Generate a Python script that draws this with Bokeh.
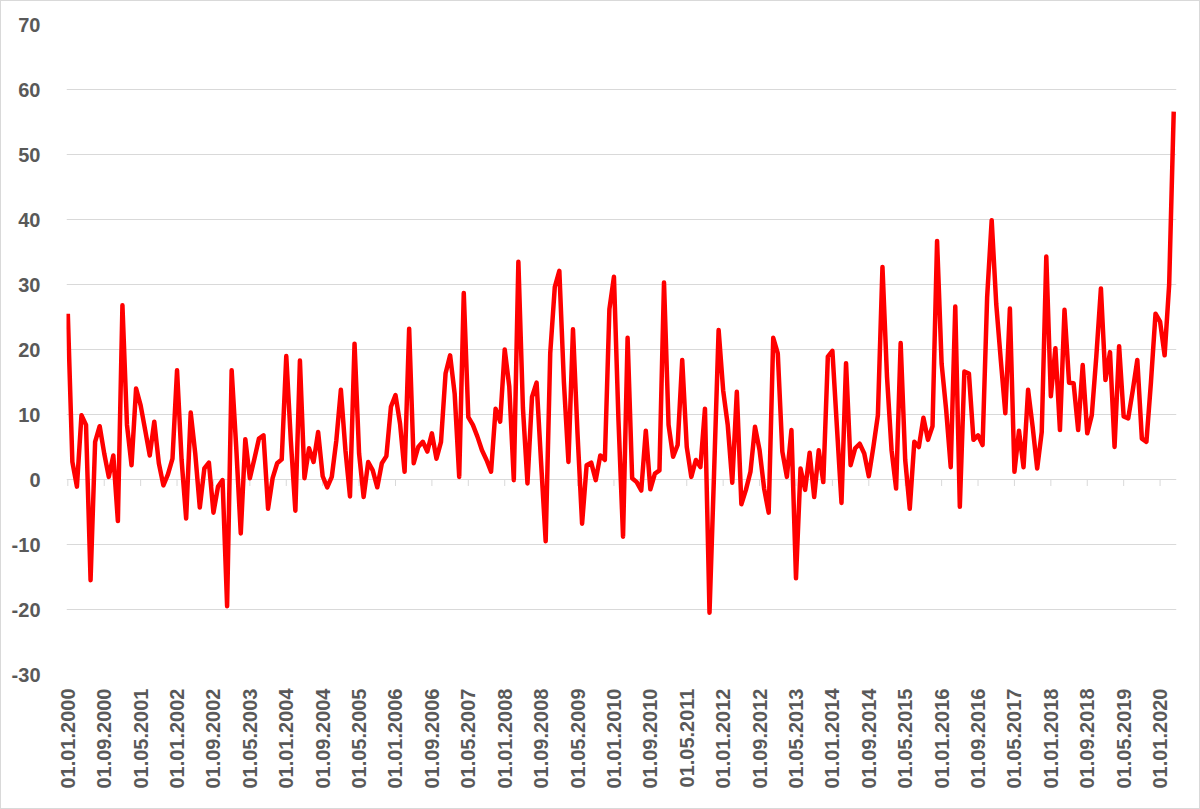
import math
from bokeh.plotting import figure
from bokeh.models import Range1d, FixedTicker, ColumnDataSource
from bokeh.embed import file_html
from bokeh.resources import INLINE

# Monthly values, 01.01.2000 .. 01.04.2020
values = [
    25.5, 2.7, -1.1, 9.9, 8.4, -15.5, 5.8, 8.2, 4.0, 0.4, 3.7, -6.4,
    26.8, 8.4, 2.2, 14.0, 11.4, 7.6, 3.7, 8.9, 2.5, -0.9, 0.8, 3.2,
    16.8, 3.0, -6.0, 10.3, 4.0, -4.3, 1.7, 2.6, -5.1, -1.1, -0.1, -19.5,
    16.8, 5.0, -8.3, 6.2, 0.2, 3.2, 6.3, 6.8, -4.5, 0.2, 2.5, 3.1,
    19.0, 6.0, -4.8, 18.3, 0.2, 4.8, 2.7, 7.3, 0.5, -1.2, 0.4, 6.0,
    13.8, 4.5, -2.6, 20.9, 4.0, -2.7, 2.7, 1.4, -1.2, 2.5, 3.6, 11.2,
    13.0, 8.6, 1.2, 23.2, 2.5, 5.0, 5.8, 4.3, 7.1, 3.2, 5.8, 16.3,
    19.1, 13.2, 0.4, 28.7, 9.6, 8.4, 6.6, 4.5, 3.0, 1.2, 10.9, 8.9,
    20.0, 14.3, -0.1, 33.5, 11.0, -0.6, 12.7, 14.9, 2.5, -9.5, 19.4, 29.6,
    32.1, 15.0, 2.7, 23.1, 7.0, -6.8, 2.2, 2.6, -0.1, 3.7, 3.0, 26.2,
    31.2, 9.0, -8.8, 21.8, 0.2, -0.4, -1.7, 7.5, -1.5, 0.9, 1.4, 30.3,
    8.4, 3.5, 5.3, 18.4, 5.0, 0.4, 3.0, 1.9, 10.9, -20.5, 1.0, 23.0,
    13.7, 8.4, -0.5, 13.5, -3.8, -1.6, 1.2, 8.1, 4.5, -1.4, -5.1, 21.8,
    19.4, 4.3, 0.4, 7.6, -15.2, 1.7, -1.6, 4.1, -2.7, 4.5, -0.4, 18.9,
    19.8, 8.0, -3.6, 17.9, 2.2, 4.8, 5.5, 4.0, 0.5, 5.0, 9.9, 32.7,
    15.8, 4.5, -1.4, 21.0, 3.0, -4.5, 5.8, 5.0, 9.5, 6.1, 8.2, 36.7,
    17.8, 10.7, 1.9, 26.6, -4.2, 16.6, 16.3, 6.1, 6.8, 5.3, 28.0, 39.9,
    27.0, 18.4, 10.2, 26.3, 1.2, 7.5, 1.9, 13.8, 8.1, 1.7, 7.3, 34.3,
    12.8, 20.2, 7.6, 26.1, 14.9, 14.8, 7.6, 17.6, 7.1, 9.9, 19.0, 29.4,
    15.3, 19.6, 5.0, 20.5, 9.7, 9.4, 13.7, 18.4, 6.3, 5.8, 15.0, 25.5,
    24.3, 19.1, 30.0, 56.6,
]
months = list(range(len(values)))

x_tick_positions = list(range(0, 241, 8))
x_tick_labels = [
    "01.01.2000", "01.09.2000", "01.05.2001", "01.01.2002", "01.09.2002",
    "01.05.2003", "01.01.2004", "01.09.2004", "01.05.2005", "01.01.2006",
    "01.09.2006", "01.05.2007", "01.01.2008", "01.09.2008", "01.05.2009",
    "01.01.2010", "01.09.2010", "01.05.2011", "01.01.2012", "01.09.2012",
    "01.05.2013", "01.01.2014", "01.09.2014", "01.05.2015", "01.01.2016",
    "01.09.2016", "01.05.2017", "01.01.2018", "01.09.2018", "01.05.2019",
    "01.01.2020",
]
y_ticks = [-30, -20, -10, 0, 10, 20, 30, 40, 50, 60, 70]
y_tick_labels = ["-30", "-20", "-10", "0", "10", "20", "30", "40", "50", "60", "70"]

GRID = "#d9d9d9"
TEXT = "#595959"

p = figure(
    frame_width=1110, frame_height=650,
    min_border_left=65, min_border_top=23, min_border_right=23, min_border_bottom=134,
    x_range=Range1d(-0.29, 243.61), y_range=Range1d(-30, 70),
    output_backend="svg", toolbar_location=None,
    background_fill_color="white", border_fill_color="white",
)
p.outline_line_color = None
p.styles = {"border": "1px solid #d9d9d9"}

# y axis
p.yaxis.ticker = FixedTicker(ticks=y_ticks)
p.yaxis.major_label_overrides = {t: l for t, l in zip(y_ticks, y_tick_labels)}
p.yaxis.axis_line_color = None
p.yaxis.major_tick_line_color = None
p.yaxis.minor_tick_line_color = None
p.yaxis.major_label_text_font = "Liberation Sans"
p.yaxis.major_label_text_font_style = "bold"
p.yaxis.major_label_text_font_size = "20px"
p.yaxis.major_label_text_color = TEXT
p.yaxis.major_label_standoff = 20

p.ygrid.ticker = FixedTicker(ticks=y_ticks)
p.ygrid.grid_line_color = GRID
p.ygrid.grid_line_width = 1
p.xgrid.grid_line_color = None

# x axis (labels only, at bottom)
p.xaxis.ticker = FixedTicker(ticks=x_tick_positions)
p.xaxis.major_label_overrides = {t: l for t, l in zip(x_tick_positions, x_tick_labels)}
p.xaxis.major_label_orientation = math.pi / 2
p.xaxis.axis_line_color = None
p.xaxis.major_tick_line_color = None
p.xaxis.minor_tick_line_color = None
p.xaxis.major_label_text_font = "Liberation Sans"
p.xaxis.major_label_text_font_style = "bold"
p.xaxis.major_label_text_font_size = "20px"
p.xaxis.major_label_text_color = TEXT
p.xaxis.major_label_standoff = 8

# tick marks hanging below the zero line
p.segment(x0=x_tick_positions, y0=[0] * len(x_tick_positions),
          x1=x_tick_positions, y1=[-1.0] * len(x_tick_positions),
          line_color=GRID, line_width=1)

src = ColumnDataSource(dict(x=months, y=values))
p.line("x", "y", source=src, line_color="#ff0000", line_width=4.5, line_join="round")

open("out.html", "w").write(file_html(p, INLINE))
